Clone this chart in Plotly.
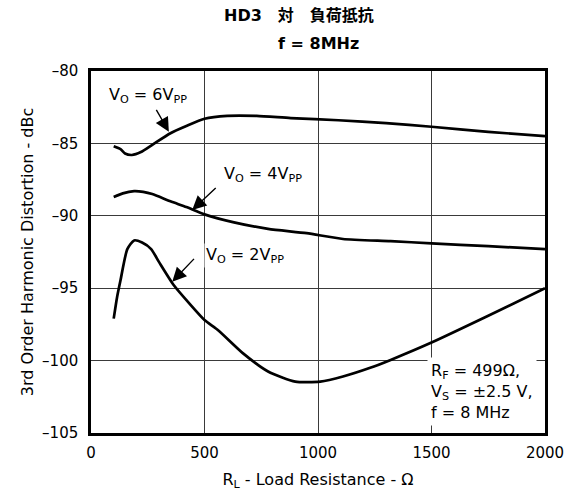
import plotly.graph_objects as go

# Load resistance (ohm) and HD3 (dBc) for each output swing
rl_6v = [100, 130, 150, 180, 220, 270, 350, 420, 500, 600, 730, 880, 1090, 1300, 1500, 1750, 2000]
hd3_6v = [-85.2, -85.4, -85.7, -85.8, -85.6, -85.1, -84.3, -83.8, -83.3, -83.1, -83.1, -83.25, -83.4, -83.6, -83.85, -84.2, -84.5]

rl_4v = [100, 140, 190, 230, 270, 350, 420, 500, 630, 780, 950, 1110, 1320, 1500, 1750, 2000]
hd3_4v = [-88.7, -88.45, -88.3, -88.35, -88.5, -89.0, -89.4, -89.9, -90.45, -90.9, -91.2, -91.6, -91.75, -91.9, -92.1, -92.3]

rl_2v = [100, 115, 130, 160, 190, 225, 265, 300, 365, 430, 500, 560, 670, 780, 900, 1010, 1110, 1230, 1320, 1500, 1750, 2000]
hd3_2v = [-97.1, -95.6, -94.45, -92.3, -91.7, -91.85, -92.3, -93.2, -94.8, -96.0, -97.2, -97.9, -99.5, -100.75, -101.45, -101.45, -101.1, -100.5, -99.95, -98.75, -96.9, -95.0]

x_ticks = [0, 500, 1000, 1500, 2000]
y_ticks = [-80, -85, -90, -95, -100, -105]
y_ticktext = ["–80", "–85", "–90", "–95", "–100", "–105"]

title_lines = ["HD3　対　負荷抵抗", "f = 8MHz"]
series_labels = ["V<sub>O</sub> = 6V<sub>PP</sub>", "V<sub>O</sub> = 4V<sub>PP</sub>", "V<sub>O</sub> = 2V<sub>PP</sub>"]
conditions_text = "R<sub>F</sub> = 499Ω,<br>V<sub>S</sub> = ±2.5 V,<br>f = 8 MHz"

FONT = "DejaVu Sans, Noto Sans CJK JP, sans-serif"

fig = go.Figure()
for xs, ys in [(rl_6v, hd3_6v), (rl_4v, hd3_4v), (rl_2v, hd3_2v)]:
    fig.add_trace(go.Scatter(
        x=xs, y=ys, mode="lines",
        line=dict(color="black", width=2.7, shape="spline", smoothing=0.6),
        showlegend=False, hoverinfo="skip",
    ))

# Two-line bold heading above the plot area
heading = [(0.2885, "left", 1.152, title_lines[0]),
           (0.5, "center", 1.077, title_lines[1])]
for xp, xa, yp, txt in heading:
    fig.add_annotation(xref="paper", yref="paper", x=xp, y=yp,
                       xanchor=xa, yanchor="middle", showarrow=False,
                       text=f"<b>{txt}</b>",
                       font=dict(size=16, color="black", family=FONT))

# Curve labels (text on white background)
label_pos = [(250, -81.66), (758, -87.18), (677, -92.71)]
for (lx, ly), txt in zip(label_pos, series_labels):
    fig.add_annotation(x=lx, y=ly, text=txt, showarrow=False,
                       font=dict(size=16, color="black", family=FONT),
                       bgcolor="white", borderpad=1)

# Arrows pointing from labels to curves
arrows = [((284, -82.58), (343, -84.19)),
          ((556, -87.99), (446, -89.6)),
          ((460, -92.87), (358, -94.55))]
for (tx, ty), (hx, hy) in arrows:
    fig.add_annotation(x=hx, y=hy, ax=tx, ay=ty, axref="x", ayref="y",
                       text="", showarrow=True, arrowhead=2, arrowsize=2.0,
                       arrowwidth=1.4, arrowcolor="black")

# Test conditions box
fig.add_annotation(x=1482, y=-104.55, xanchor="left", yanchor="bottom",
                   text=conditions_text, showarrow=False, align="left",
                   font=dict(size=16, color="black", family=FONT),
                   bgcolor="white", borderpad=3)

axis_common = dict(
    showgrid=True, gridcolor="#3a3a3a", gridwidth=1, zeroline=False,
    showline=True, linecolor="black", linewidth=2.5, mirror=True,
    ticks="", tickfont=dict(size=15, family=FONT),
)

fig.update_layout(
    width=581, height=491,
    margin=dict(l=91, r=36, t=71, b=58),
    paper_bgcolor="white", plot_bgcolor="white",
    font=dict(family=FONT, size=15, color="black"),
    xaxis=dict(range=[0, 2000], tickvals=x_ticks, ticklabelstandoff=4,
               automargin=False,
               title=dict(text="R<sub>L</sub> - Load Resistance - Ω", standoff=16,
                          font=dict(size=16)),
               **axis_common),
    yaxis=dict(range=[-105, -80], tickvals=y_ticks, ticktext=y_ticktext,
               ticklabelstandoff=7,
               title=dict(text="3rd Order Harmonic Distortion - dBc", standoff=5,
                          font=dict(size=16)),
               **axis_common),
)

fig.write_html("out.html")
